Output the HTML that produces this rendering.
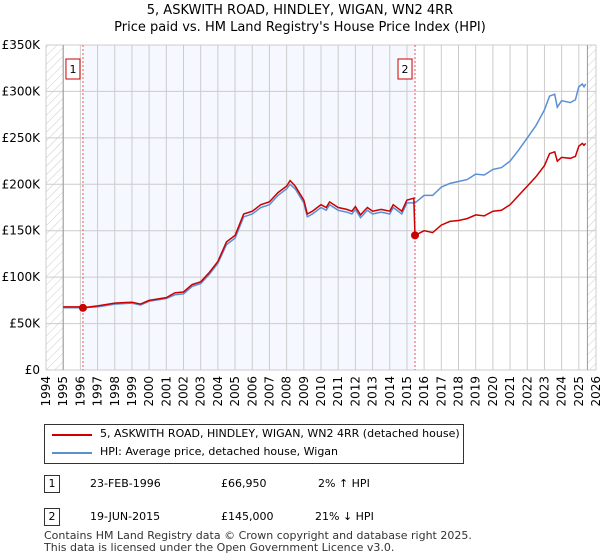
<!DOCTYPE html>
<html><head><meta charset="utf-8"><style>
body{margin:0;background:#fff;font-family:"DejaVu Sans","Liberation Sans",sans-serif;}
#wrap{position:relative;width:600px;height:560px;overflow:hidden}
.t{position:absolute;font-size:12px;color:#000;white-space:nowrap}
.box{position:absolute;border:1px solid #333;background:#fff;font-size:11px;text-align:center;width:14px;height:16px;line-height:16px}
</style></head><body><div id="wrap">
<div class="t" style="left:0;width:600px;text-align:center;top:2px;font-size:13px;line-height:17px">5, ASKWITH ROAD, HINDLEY, WIGAN, WN2 4RR<br>Price paid vs. HM Land Registry's House Price Index (HPI)</div>
<svg id="svg" width="600" height="420" style="position:absolute;left:0;top:0">
<defs><pattern id="hatch" width="6" height="6" patternUnits="userSpaceOnUse" patternTransform="rotate(45)"><line x1="0" y1="0" x2="0" y2="6" stroke="#ccc" stroke-width="1"/></pattern></defs>
</svg>
<div style="position:absolute;left:44px;top:424px;width:418px;height:38px;border:1px solid #333"></div>
<div style="position:absolute;left:52px;top:434px;width:40px;height:2px;background:#c00"></div>
<div class="t" style="left:100px;top:427px;font-size:11px">5, ASKWITH ROAD, HINDLEY, WIGAN, WN2 4RR (detached house)</div>
<div style="position:absolute;left:52px;top:452px;width:40px;height:2px;background:#5b8fd4"></div>
<div class="t" style="left:100px;top:445px;font-size:11px">HPI: Average price, detached house, Wigan</div>
<div class="box" style="left:44px;top:475px">1</div>
<div class="t" style="left:90px;top:477px;font-size:11px">23-FEB-1996</div>
<div class="t" style="left:221px;top:477px;font-size:11px">£66,950</div>
<div class="t" style="left:318px;top:477px;font-size:11px">2% ↑ HPI</div>
<div class="box" style="left:44px;top:508px">2</div>
<div class="t" style="left:90px;top:510px;font-size:11px">19-JUN-2015</div>
<div class="t" style="left:221px;top:510px;font-size:11px">£145,000</div>
<div class="t" style="left:315px;top:510px;font-size:11px">21% ↓ HPI</div>
<div class="t" style="left:44px;top:530px;font-size:11px;line-height:12px;color:#333">Contains HM Land Registry data © Crown copyright and database right 2025.<br>This data is licensed under the Open Government Licence v3.0.</div>
</div>
<script>
const yTicks=[0,50,100,150,200,250,300,350];
const xYears=[1994,1995,1996,1997,1998,1999,2000,2001,2002,2003,2004,2005,2006,2007,2008,2009,2010,2011,2012,2013,2014,2015,2016,2017,2018,2019,2020,2021,2022,2023,2024,2025,2026];
const hpiT=[1995,1996,1997,1998,1999,1999.5,2000,2001,2001.5,2002,2002.5,2003,2003.5,2004,2004.5,2005,2005.5,2006,2006.5,2007,2007.5,2008,2008.2,2008.5,2009,2009.2,2009.5,2010,2010.3,2010.5,2011,2011.5,2011.8,2012,2012.3,2012.7,2013,2013.5,2014,2014.2,2014.7,2015,2015.47,2016,2016.5,2017,2017.5,2018,2018.5,2019,2019.5,2020,2020.5,2021,2021.5,2022,2022.5,2023,2023.3,2023.6,2023.75,2024,2024.5,2024.8,2025,2025.2,2025.3,2025.4];
const hpiV=[67,67,68,71,72,70,74,77,81,82,90,93,103,115,135,142,165,168,175,178,188,195,200,195,180,165,168,175,172,178,172,170,168,173,164,172,168,170,168,175,168,180,180,188,188,197,201,203,205,211,210,216,218,225,237,250,263,280,295,297,283,290,288,291,305,308,305,308];
const redT=[1995,1996,1996.15,1997,1998,1999,1999.5,2000,2001,2001.5,2002,2002.5,2003,2003.5,2004,2004.5,2005,2005.5,2006,2006.5,2007,2007.5,2008,2008.2,2008.5,2009,2009.2,2009.5,2010,2010.3,2010.5,2011,2011.5,2011.8,2012,2012.3,2012.7,2013,2013.5,2014,2014.2,2014.7,2015,2015.4,2015.47,2016,2016.5,2017,2017.5,2018,2018.5,2019,2019.5,2020,2020.5,2021,2021.5,2022,2022.5,2023,2023.3,2023.6,2023.75,2024,2024.5,2024.8,2025,2025.2,2025.3,2025.4];
const redV=[68,68,66.95,69,72,73,71,75,78,83,84,92,95,105,117,138,145,168,171,178,181,191,198,204,198,183,168,171,178,175,181,175,173,171,176,167,175,171,173,171,178,171,183,185,145,150,148,156,160,161,163,167,166,171,172,178,188,198,208,220,233,235,225,229,228,230,241,244,242,244];
const sales=[[1996.15,66.95,'1'],[2015.47,145,'2']];
const L=46,R=596,T=45,B=370;
const X=y=>L+(y-1994)/32*(R-L), Y=v=>B-v/350*(B-T);
const s=document.getElementById('svg'),NS='http://www.w3.org/2000/svg';
const FF='DejaVu Sans, Liberation Sans, sans-serif';
function mk(tag,a,name){const e=document.createElementNS(NS,tag);for(const k in a)e.setAttribute(k,a[k]);


s.appendChild(e);return e;}
mk('rect',{x:L,y:T,width:X(1995)-L,height:B-T,fill:'url(#hatch)'},'hatch-left');
mk('rect',{x:X(2025.5),y:T,width:R-X(2025.5),height:B-T,fill:'url(#hatch)'},'hatch-right');
mk('rect',{x:X(sales[0][0]),y:T,width:X(sales[1][0])-X(sales[0][0]),height:B-T,fill:'#f5f8fe'},'ownership-shade');
yTicks.forEach(v=>{mk('line',{x1:L,x2:R,y1:Y(v),y2:Y(v),stroke:'#ccc'},'y-gridline');
const t=mk('text',{x:L-6,y:Y(v)+4,'text-anchor':'end','font-size':12,'font-family':FF},'y-tick-label');t.textContent='£'+(v?v+'K':'0');});
xYears.forEach(y=>{mk('line',{x1:X(y),x2:X(y),y1:T,y2:B,stroke:'#ccc'},'x-gridline');
const t=mk('text',{x:X(y)+4,y:B+6,'text-anchor':'end','font-size':12,'font-family':FF,transform:`rotate(-90 ${X(y)+4} ${B+6})`},'x-tick-label');t.textContent=y;});
mk('line',{x1:X(1995),x2:X(1995),y1:T,y2:B,stroke:'#999'},'data-start-line');
mk('line',{x1:X(2025.5),x2:X(2025.5),y1:T,y2:B,stroke:'#999'},'data-end-line');
sales.forEach(d=>{mk('line',{x1:X(d[0]),x2:X(d[0]),y1:T,y2:B,stroke:'#e55','stroke-dasharray':'2,2'},'sale-marker-line');});
const path=(t,v)=>t.map((x,i)=>(i?'L':'M')+X(x).toFixed(1)+','+Y(v[i]).toFixed(1)).join('');
mk('path',{d:path(hpiT,hpiV),fill:'none',stroke:'#5b8fd4','stroke-width':1.5},'hpi-line');
mk('path',{d:path(redT,redV),fill:'none',stroke:'#c00','stroke-width':1.5},'price-line');
sales.forEach(d=>{mk('circle',{cx:X(d[0]),cy:Y(d[1]),r:4,fill:'#c00'},'sale-point');
mk('rect',{x:X(d[0])-17,y:T+14,width:14,height:20,fill:'#fff',stroke:'#c00'},'sale-label-box');
const t=mk('text',{x:X(d[0])-10,y:T+28,'text-anchor':'middle','font-size':11,'font-family':FF},'sale-label');t.textContent=d[2];});
</script></body></html>
